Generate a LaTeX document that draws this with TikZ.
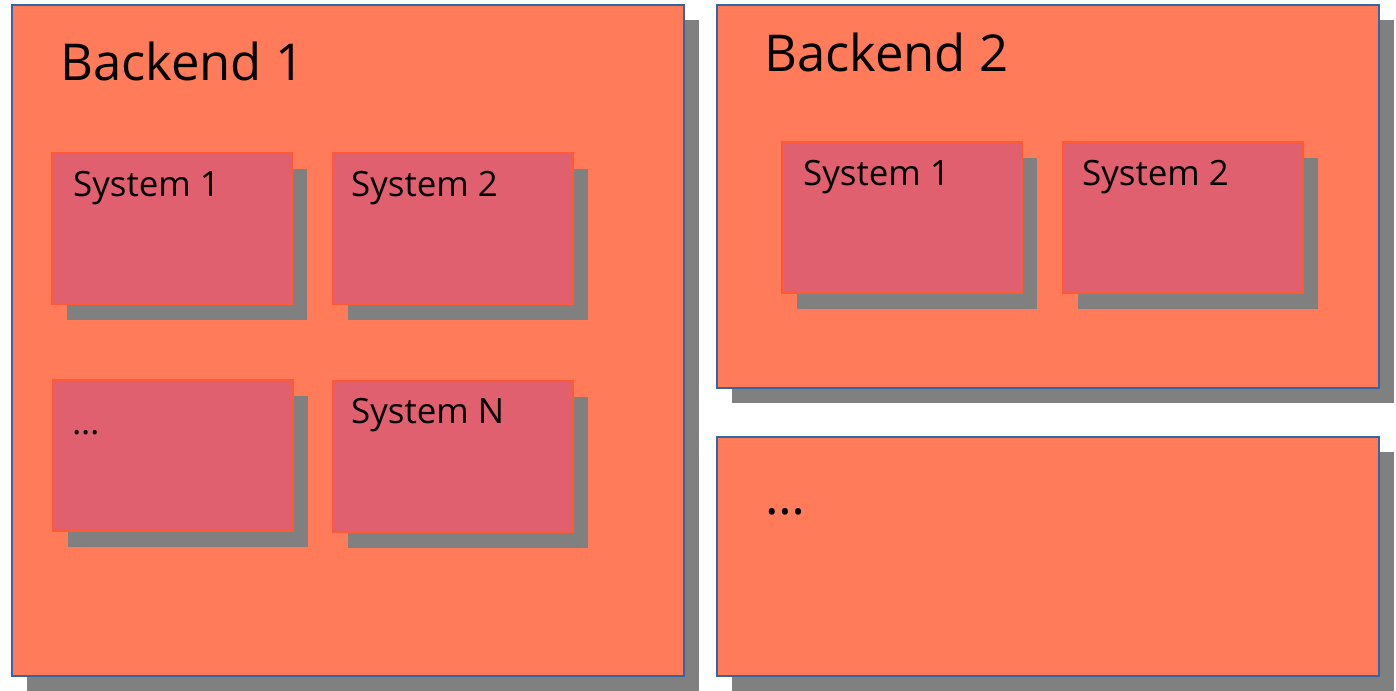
\documentclass[tikz,border=0pt]{standalone}
\usepackage{fontspec}
\setmainfont{Open Sans}
\usetikzlibrary{shadows}

\definecolor{backendfill}{HTML}{FF7B5A}
\definecolor{backendline}{HTML}{3465A4}
\definecolor{systemfill}{HTML}{E06070}
\definecolor{systemline}{HTML}{FF5A36}
\definecolor{shadowgray}{HTML}{808080}

\tikzset{
  backendbox/.style={draw=backendline,line width=1.5bp,fill=backendfill,anchor=north west,
    inner sep=0pt,outer sep=0pt,
    drop shadow={shadow xshift=15bp,shadow yshift=-15bp,fill=shadowgray,opacity=1}},
  systembox/.style={draw=systemline,line width=2bp,fill=systemfill,anchor=north west,
    inner sep=0pt,outer sep=0pt,minimum width=240bp,minimum height=151bp,
    drop shadow={shadow xshift=15bp,shadow yshift=-16bp,fill=shadowgray,opacity=1}},
  biglabel/.style={anchor=base west,inner sep=0pt,font=\fontsize{51}{60}\selectfont},
  smalllabel/.style={anchor=base west,inner sep=0pt,font=\fontsize{35}{42}\selectfont}
}

\begin{document}
\begin{tikzpicture}[x=1bp,y=-1bp]
\useasboundingbox (0,0) rectangle (1396,691);
% backends
\node[backendbox,minimum width=672bp,minimum height=671bp] (back1) at (12,5) {};
\node[backendbox,minimum width=662bp,minimum height=383bp] (back2) at (717,5) {};
\node[backendbox,minimum width=662bp,minimum height=239bp] (backdots) at (717,437) {};
\node[biglabel] (back1text) at ([shift={(48,76)}]back1.north west) {Backend 1};
\node[biglabel] (back2text) at ([shift={(47,67)}]back2.north west) {Backend 2};
\node[biglabel] (backdotstext) at ([shift={(48,77)}]backdots.north west) {…};
% systems of backend 1
\node[systembox] (b1sys1) at (52,153) {};
\node[systembox] (b1sys2) at (333,153) {};
\node[systembox] (b1dots) at (53,380) {};
\node[systembox] (b1sysn) at (333,381) {};
\node[smalllabel] (b1sys1text) at ([shift={(21,43)}]b1sys1.north west) {System 1};
\node[smalllabel] (b1sys2text) at ([shift={(18,43)}]b1sys2.north west) {System 2};
\node[smalllabel] (b1dotstext) at ([shift={(19,54)}]b1dots.north west) {…};
\node[smalllabel] (b1sysntext) at ([shift={(18,42)}]b1sysn.north west) {System N};
% systems of backend 2
\node[systembox] (b2sys1) at (782,142) {};
\node[systembox] (b2sys2) at (1063,142) {};
\node[smalllabel] (b2sys1text) at ([shift={(21,43)}]b2sys1.north west) {System 1};
\node[smalllabel] (b2sys2text) at ([shift={(19,43)}]b2sys2.north west) {System 2};
\end{tikzpicture}
\end{document}
